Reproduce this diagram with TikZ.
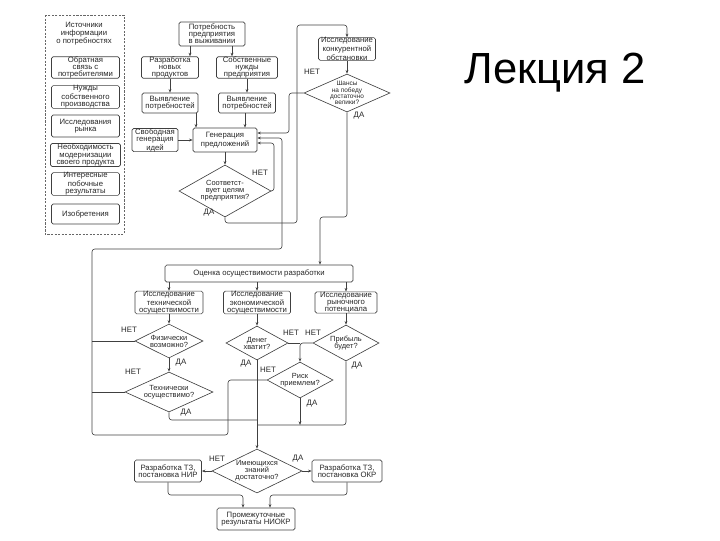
\documentclass[tikz,border=0pt]{standalone}
\usepackage{fontspec}
\setmainfont{Liberation Sans}
\usetikzlibrary{arrows.meta, positioning, shapes.geometric}

\begin{document}
\begin{tikzpicture}[x=0.025cm, y=-0.025cm, >={Stealth[length=2.6pt, width=2pt]},
  font=\fontsize{5.5}{5.1}\selectfont, line width=0.45pt,
  box/.style 2 args={draw=black!75, text=black!85, rounded corners=1.2pt, align=center,
    inner sep=0pt, minimum width=#1*0.025cm, minimum height=#2*0.025cm},
  dia/.style 2 args={draw=black!75, diamond, inner sep=0pt,
    minimum width=#1*0.025cm, minimum height=#2*0.025cm},
  txt/.style={align=center, text=black!85},
  dtxt/.style={txt, font=\fontsize{5.3}{5}\selectfont},
  lab/.style={font=\fontsize{5.6}{6}\selectfont, text=black!85},
  link/.style={draw=black!75, rounded corners=2pt},
  arr/.style={link, ->}]
  \useasboundingbox (0,0) rectangle (720,540);

  % Title
  \node[anchor=base, font=\fontsize{31}{36}\selectfont] (title) at (555,83) {Лекция 2};

  % Sources of information
  \draw[draw=black!60, dash pattern=on 1.5pt off 1pt] (45,15) rectangle (124,234);
  \node[txt] (src) at (84,34) {Источники\\информации\\о потребностях};
  \node[box={68}{21}] (s1) at (85.5,67.5) {Обратная\\связь с\\потребителями};
  \node[box={68}{22}] (s2) at (85.5,97) {Нужды\\собственного\\производства};
  \node[box={68}{22}] (s3) at (85.5,126) {Исследования\\рынка};
  \node[box={70}{23}] (s4) at (85.5,155) {Необходимость\\модернизации\\своего продукта};
  \node[box={68}{22}] (s5) at (85.5,184) {Интересные\\побочные\\результаты};
  \node[box={68}{20}] (s6) at (85.5,214) {Изобретения};

  % Needs and proposals
  \node[box={66}{24}] (need) at (212,34) {Потребность\\предприятия\\в выживании};
  \node[box={57}{21}] (newprod) at (170,67.5) {Разработка\\новых\\продуктов};
  \node[box={61}{21}] (ownneed) at (247,67.5) {Собственные\\нужды\\предприятия};
  \node[box={56}{20}] (revL) at (170,103) {Выявление\\потребностей};
  \node[box={57}{20}] (revR) at (247,103) {Выявление\\потребностей};
  \node[box={46}{23}] (free) at (155,140) {Свободная\\генерация\\идей};
  \node[box={64}{24}] (gen) at (225,140) {Генерация\\предложений};
  \node[dia={92}{52}, label={[dtxt]center:Соответст-\\вует целям\\предприятия?}] (fit) at (225,191) {};

  % Competition
  \node[box={57}{22}] (comp) at (347,49) {Исследование\\конкурентной\\обстановки};
  \node[dia={86}{38}, label={[txt, font=\fontsize{4.6}{4.4}\selectfont]center:Шансы\\на победу\\достаточно\\велики?}] (win) at (347,93) {};

  % Feasibility
  \node[box={188}{17}] (eval) at (259,273.5) {Оценка осуществимости разработки};
  \node[box={68}{21}] (tech) at (169,302.5) {Исследование\\технической\\осуществимости};
  \node[box={67}{21}] (econ) at (257,302.5) {Исследование\\экономической\\осуществимости};
  \node[box={62}{21}] (mkt) at (346,302.5) {Исследование\\рыночного\\потенциала};
  \node[dia={68}{34}, label={[dtxt]center:Физически\\возможно?}] (phys) at (169,341) {};
  \node[dia={62}{34}, label={[dtxt]center:Денег\\хватит?}] (money) at (257,343) {};
  \node[dia={66}{36}, label={[dtxt]center:Прибыль\\будет?}] (profit) at (346,343) {};
  \node[dia={66}{36}, label={[dtxt]center:Риск\\приемлем?}] (risk) at (300,380) {};
  \node[dia={88}{40}, label={[dtxt]center:Технически\\осуществимо?}] (feas) at (169,392) {};

  % R&D
  \node[dia={90}{44}, label={[dtxt]center:Имеющихся\\знаний\\достаточно?}] (know) at (257,471) {};
  \node[box={67}{22}] (nir) at (168,471) {Разработка ТЗ,\\постановка НИР};
  \node[box={70}{22}] (okr) at (347,471) {Разработка ТЗ,\\постановка ОКР};
  \node[box={78}{22}] (res) at (256,519) {Промежуточные\\результаты НИОКР};

  % helper columns and rows
  \coordinate (k1) at (190,0);
  \coordinate (k2) at (232,0);
  \coordinate (k3) at (196,0);
  \coordinate (k4) at (245,0);
  \coordinate (cN) at (274,0);
  \coordinate (cF) at (282,0);
  \coordinate (cW) at (289,0);
  \coordinate (cL) at (297,0);
  \coordinate (cE) at (320,0);
  \coordinate (cX) at (92,0);
  \coordinate (cR) at (228,0);
  \coordinate (cA) at (243,0);
  \coordinate (cB) at (270,0);
  \coordinate (g1) at (0,133);
  \coordinate (g2) at (0,138);
  \coordinate (g3) at (0,143);
  \coordinate (rT) at (0,25);
  \coordinate (rJ) at (0,217);
  \coordinate (rD) at (0,223);
  \coordinate (rF) at (0,249);
  \coordinate (rL) at (0,420);
  \coordinate (rR) at (0,425);
  \coordinate (rB) at (0,435);
  \coordinate (rK) at (0,495);

  % upper connectors
  \draw[arr] (need.south -| k1) -- (newprod.north -| k1);
  \draw[arr] (need.south -| k2) -- (ownneed.north -| k2);
  \draw[arr] (newprod) -- (revL);
  \draw[arr] (ownneed) -- (revR);
  \draw[arr] (revL.south -| k3) -- (gen.north -| k3);
  \draw[arr] (revR.south -| k4) -- (gen.north -| k4);
  \draw[arr] (free) -- (gen);
  \draw[arr] (gen) -- (fit);
  \draw[arr] (fit.east) -- (fit.east -| cN) -- (cN |- g3) -- (gen.east |- g3);
  \draw[arr] (fit.south) -- (fit.south |- rD) -- (cL |- rD) -- (cL |- rT) -- (comp.north |- rT) -- (comp.north);
  \draw[arr] (comp) -- (win);
  \draw[arr] (win.west) -- (win.west -| cW) -- (cW |- g1) -- (gen.east |- g1);
  \draw[arr] (win.south) -- (win.south |- rJ) -- (cE |- rJ) -- (cE |- eval.north);
  \node[lab] (l1) at (260,173) {НЕТ};
  \node[lab] (l2) at (209,213) {ДА};
  \node[lab] (l3) at (312,72) {НЕТ};
  \node[lab] (l4) at (359,116) {ДА};

  % feasibility connectors
  \draw[arr] (eval.south -| tech.north) -- (tech.north);
  \draw[arr] (eval.south -| econ.north) -- (econ.north);
  \draw[arr] (eval.south -| mkt.north) -- (mkt.north);
  \draw[arr] (tech) -- (phys);
  \draw[arr] (econ) -- (money);
  \draw[arr] (mkt) -- (profit);
  \draw[arr] (phys) -- (feas);
  \draw[link] (phys.west) -- (phys.west -| cX);
  \draw[link] (feas.west) -- (feas.west -| cX);
  \draw[link] (money.east) -- (money.east -| risk.north);
  \draw[arr] (profit.west) -- (profit.west -| risk.north) -- (risk.north);
  \draw[arr] (money.south) -- (know.north);
  \draw[link] (feas.south) -- (feas.south |- rL) -- (money.south |- rL);
  \draw[link] (profit.south) -- (profit.south |- rR) -- (money.south |- rR);
  \draw[arr] (risk.south) -- (risk.south |- rR);
  \draw[arr] (risk.west) -- (risk.west -| cR) -- (cR |- rB) -- (cX |- rB) -- (cX |- rF) -- (cF |- rF) -- (cF |- g2) -- (gen.east |- g2);
  \node[lab] (l5) at (129,330) {НЕТ};
  \node[lab] (l6) at (181,363) {ДА};
  \node[lab] (l7) at (133,372) {НЕТ};
  \node[lab] (l8) at (186,413) {ДА};
  \node[lab] (l9) at (246,364) {ДА};
  \node[lab] (l10) at (291,333) {НЕТ};
  \node[lab] (l11) at (313,333) {НЕТ};
  \node[lab] (l12) at (357,366) {ДА};
  \node[lab] (l13) at (312,404) {ДА};
  \node[lab] (l14) at (268,370) {НЕТ};

  % R&D connectors
  \draw[arr] (know.west) -- (nir.east);
  \draw[arr] (know.east) -- (okr.west);
  \draw[arr] (nir.south) -- (nir.south |- rK) -- (cA |- rK) -- (cA |- res.north);
  \draw[arr] (okr.south) -- (okr.south |- rK) -- (cB |- rK) -- (cB |- res.north);
  \node[lab] (l15) at (217,459) {НЕТ};
  \node[lab] (l16) at (298,459) {ДА};
\end{tikzpicture}
\end{document}
